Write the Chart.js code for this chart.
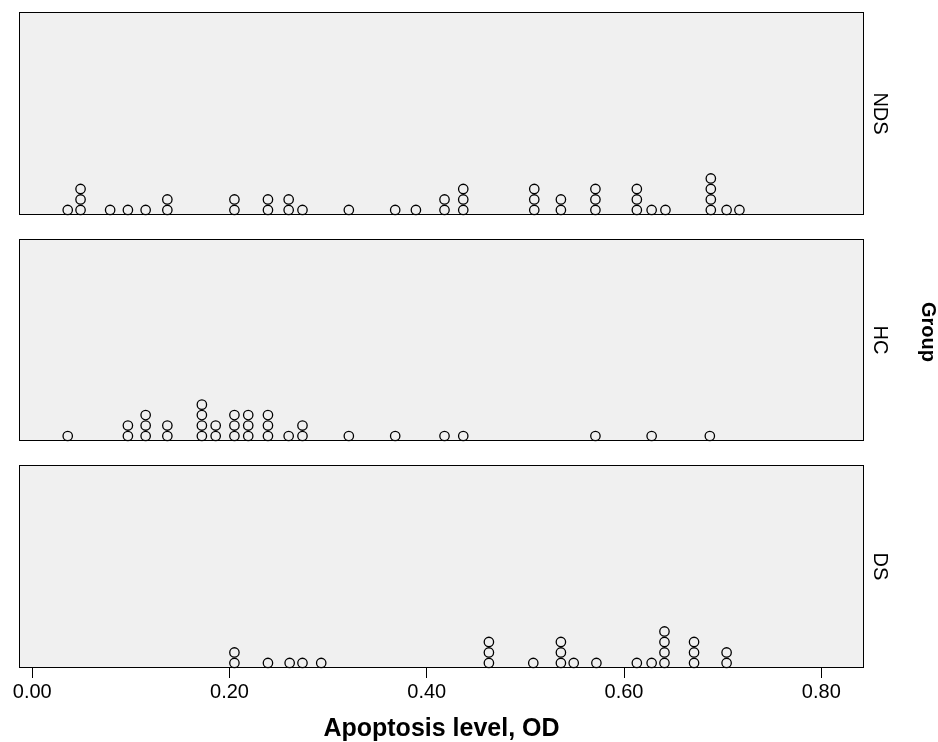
<!DOCTYPE html>
<html>
<head>
<meta charset="utf-8">
<script src="https://cdn.jsdelivr.net/npm/chart.js@4.4.1/dist/chart.umd.min.js"></script>
<style>
  html, body { margin: 0; padding: 0; background: #fff; }
  #wrap { position: relative; width: 938px; height: 742px; overflow: hidden; }
  .panel { position: absolute; left: 0; width: 938px; }
</style>
</head>
<body>
<div id="wrap">
  <div class="panel" style="top:0;height:228px"><canvas id="cNDS"></canvas></div>
  <div class="panel" style="top:228px;height:224px"><canvas id="cHC"></canvas></div>
  <div class="panel" style="top:452px;height:290px"><canvas id="cDS"></canvas></div>
</div>
<script>
// dot plot data: distinct apoptosis levels and how many cases sit at each
const ndsLevels = [0.036, 0.049, 0.079, 0.097, 0.115, 0.137, 0.205, 0.239, 0.260, 0.274, 0.321, 0.368,
                   0.389, 0.418, 0.437, 0.509, 0.536, 0.571, 0.613, 0.628, 0.642, 0.688, 0.704, 0.717];
const ndsCounts = [1, 3, 1, 1, 1, 2, 2, 2, 2, 1, 1, 1, 1, 2, 3, 3, 2, 3, 3, 1, 1, 4, 1, 1];

const hcLevels = [0.036, 0.097, 0.115, 0.137, 0.172, 0.186, 0.205, 0.219, 0.239, 0.260, 0.274, 0.321,
                  0.368, 0.418, 0.437, 0.571, 0.628, 0.687];
const hcCounts = [1, 2, 3, 2, 4, 2, 3, 3, 3, 1, 2, 1, 1, 1, 1, 1, 1, 1];

const dsLevels = [0.205, 0.239, 0.261, 0.274, 0.293, 0.463, 0.508, 0.536, 0.549, 0.572, 0.613, 0.628,
                  0.641, 0.671, 0.704];
const dsCounts = [2, 1, 1, 1, 1, 3, 1, 3, 1, 1, 1, 1, 4, 3, 2];

const xTicks = [0, 0.2, 0.4, 0.6, 0.8];
const xTitle = 'Apoptosis level, OD';
const groupTitle = 'Group';

Chart.defaults.font.family = "'Liberation Sans', Arial, sans-serif";
Chart.defaults.color = '#000';

function makeDots(levels, counts) {
  const pts = [];
  levels.forEach((v, i) => {
    for (let k = 0; k < counts[i]; k++) pts.push({ x: v, y: k });
  });
  return pts;
}

// grey panel with a black frame behind the dots
const panelBox = {
  id: 'panelBox',
  beforeDatasetsDraw(chart) {
    const a = chart.chartArea, ctx = chart.ctx;
    ctx.save();
    ctx.fillStyle = '#f0f0f0';
    ctx.fillRect(a.left, a.top, a.right - a.left, a.bottom - a.top);
    ctx.strokeStyle = '#000';
    ctx.lineWidth = 1;
    ctx.strokeRect(Math.round(a.left) + 0.5, Math.round(a.top) + 0.5,
                   Math.round(a.right - a.left) - 1, Math.round(a.bottom - a.top) - 1);
    ctx.restore();
  }
};

// the outer "Group" label on the right, drawn by the middle chart
const groupLabel = {
  id: 'groupLabel',
  afterDraw(chart) {
    const ctx = chart.ctx;
    ctx.save();
    ctx.translate(922, 104);
    ctx.rotate(Math.PI / 2);
    ctx.font = "bold 20px 'Liberation Sans', Arial, sans-serif";
    ctx.fillStyle = '#000';
    ctx.textAlign = 'center';
    ctx.textBaseline = 'alphabetic';
    ctx.fillText(groupTitle, 0, 0);
    ctx.restore();
  }
};

function makePanel(id, name, levels, counts, pad, showX) {
  const plugins = [panelBox];
  if (name === 'HC') plugins.push(groupLabel);
  return new Chart(document.getElementById(id), {
    type: 'scatter',
    data: {
      datasets: [{
        label: name,
        data: makeDots(levels, counts),
        clip: false,
        pointStyle: 'circle',
        pointRadius: 4.7,
        pointHoverRadius: 4.7,
        pointBorderWidth: 1.3,
        pointBorderColor: '#000',
        pointBackgroundColor: '#f0f0f0'
      }]
    },
    options: {
      responsive: true,
      maintainAspectRatio: false,
      animation: false,
      events: [],
      layout: { padding: { left: 19, right: 0, top: pad[0], bottom: pad[1] } },
      plugins: { legend: { display: false }, tooltip: { enabled: false } },
      scales: {
        x: {
          type: 'linear',
          display: showX,
          min: -0.0134,
          max: 0.8433,
          afterBuildTicks: s => { s.ticks = xTicks.map(v => ({ value: v })); },
          afterFit: s => { s.height = showX ? 74 : 0; },
          border: { display: false },
          grid: { drawOnChartArea: false, drawTicks: true, tickLength: 10, color: '#000', lineWidth: 1 },
          ticks: {
            autoSkip: false,
            maxRotation: 0,
            padding: 2,
            font: { size: 20 },
            callback: v => Number(v).toFixed(2)
          },
          title: {
            display: true,
            text: xTitle,
            font: { size: 25, weight: 'bold', lineHeight: 1 },
            padding: { top: 0, bottom: 0.5 }
          }
        },
        y: {
          position: 'right',
          min: -0.48,
          max: 18.85,
          afterFit: s => { s.width = 74; },
          border: { display: false },
          grid: { display: false },
          ticks: { display: false },
          title: {
            display: true,
            text: name,
            font: { size: 20, lineHeight: 1 },
            padding: { top: 48, bottom: 0 }
          }
        }
      }
    },
    plugins: plugins
  });
}

makePanel('cNDS', 'NDS', ndsLevels, ndsCounts, [12, 13], false);
makePanel('cHC', 'HC', hcLevels, hcCounts, [11, 11], false);
makePanel('cDS', 'DS', dsLevels, dsCounts, [13, 0], true);
</script>
</body>
</html>
